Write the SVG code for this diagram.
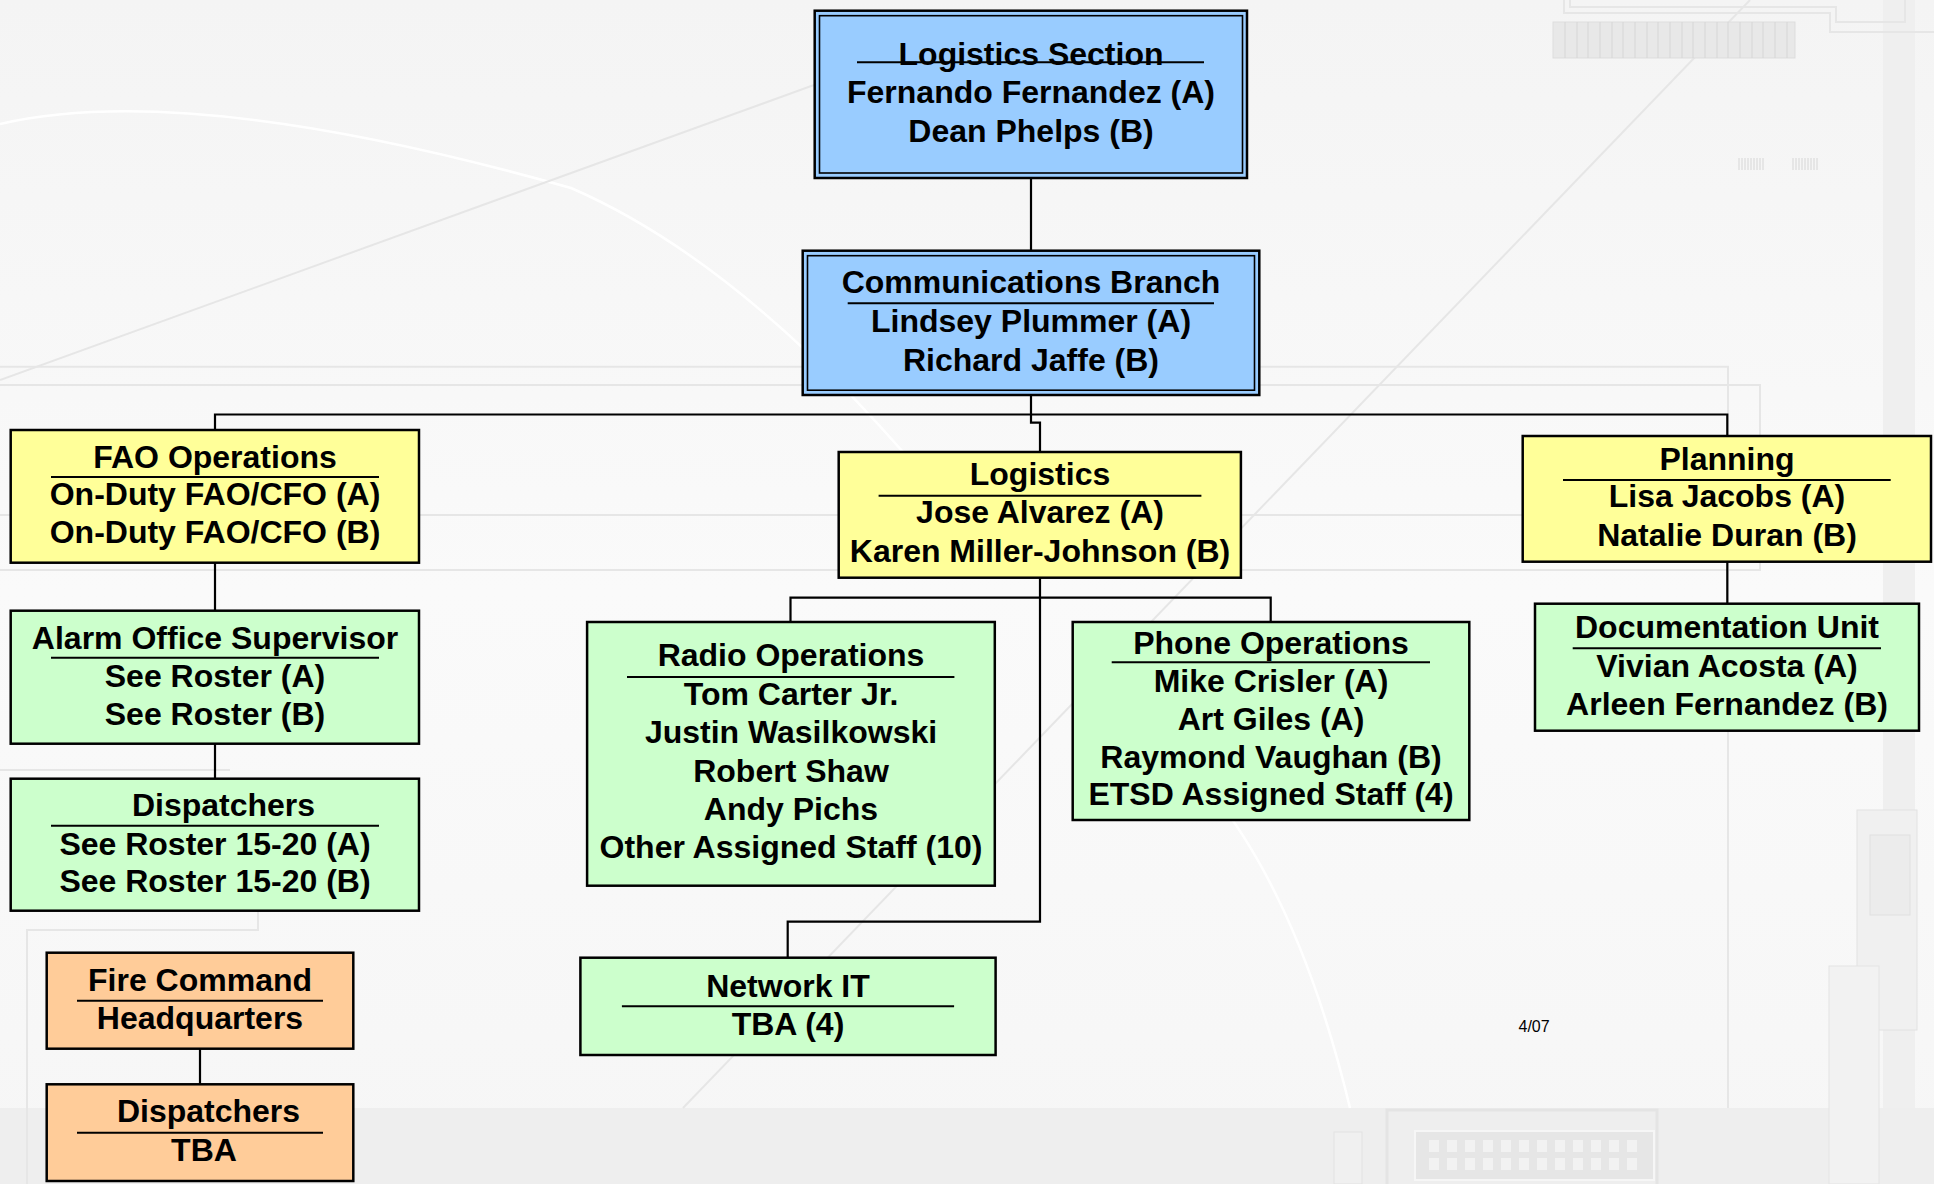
<svg xmlns="http://www.w3.org/2000/svg" width="1934" height="1184" viewBox="0 0 1934 1184">
<defs>
<linearGradient id="bg" x1="0" y1="0" x2="0" y2="1">
<stop offset="0" stop-color="#f4f4f4"/>
<stop offset="0.5" stop-color="#fafafa"/>
<stop offset="1" stop-color="#f6f6f6"/>
</linearGradient>
<style>
.t{font-family:"Liberation Sans",Arial,Helvetica,sans-serif;font-weight:bold;font-size:32px;fill:#000;text-anchor:middle}
.box{stroke:#000;stroke-width:2.5}
.in{fill:none;stroke:#000;stroke-width:1.6}
.ul{stroke:#000;stroke-width:2}
.blue{fill:#99ccff}
.yel{fill:#ffff99}
.grn{fill:#ccffcc}
.org{fill:#ffcc99}
.conn{fill:none;stroke:#000;stroke-width:2.2}
.deco{fill:none;stroke:#e6e6e6;stroke-width:2}
.decow{fill:none;stroke:#ffffff;stroke-width:2.5}
.small{font-family:"Liberation Sans",Arial,sans-serif;font-size:16px;fill:#000}
</style>
</defs>

<g id="background">
<rect x="0" y="0" width="1934" height="1184" fill="url(#bg)"/>
<rect x="1883" y="0" width="32" height="1184" fill="#efefef"/>
<rect x="0" y="1108" width="1934" height="76" fill="#eeeeee"/>
<path class="decow" d="M0,124 Q190,80 571,188 Q760,270 960,520"/>
<path class="deco" d="M0,380 L814,85"/>
<path class="deco" d="M1750,0 L683,1108"/>
<path class="decow" d="M1210,790 Q1300,900 1350,1108"/>
<path class="deco" d="M0,366.7 H1728 V1108"/>
<path class="deco" d="M0,385 H1760 V570 H0"/>
<path class="deco" d="M0,515 H1728"/>
<path class="deco" d="M0,770 H230"/>
<path class="deco" d="M27,1184 V930 H258 V900"/>
<path class="deco" d="M1564,0 V13 H1830 V32 H1934"/>
<path class="deco" d="M1570,0 V7 H1836 V22 H1905 V0"/>
<g fill="#e8e8e8" stroke="#dddddd" stroke-width="1">
<rect x="1553" y="22" width="242" height="36"/>
</g>
<g stroke="#d6d6d6" stroke-width="1">
<path d="M1565,22V58M1577,22V58M1588,22V58M1600,22V58M1612,22V58M1623,22V58M1635,22V58M1647,22V58M1658,22V58M1670,22V58M1682,22V58M1693,22V58M1705,22V58M1717,22V58M1728,22V58M1740,22V58M1752,22V58M1763,22V58M1775,22V58M1787,22V58"/>
<path d="M1739,158V170M1742,158V170M1745,158V170M1748,158V170M1751,158V170M1754,158V170M1757,158V170M1760,158V170M1763,158V170M1793,158V170M1796,158V170M1799,158V170M1802,158V170M1805,158V170M1808,158V170M1811,158V170M1814,158V170M1817,158V170"/>
</g>
<rect x="1857" y="810" width="60" height="220" fill="#f0f0f0" stroke="#e2e2e2"/>
<rect x="1870" y="835" width="40" height="80" fill="#ececec" stroke="#e0e0e0"/>
<rect x="1829" y="966" width="50" height="218" fill="#f2f2f2" stroke="#e4e4e4"/>
<rect x="1387" y="1110" width="270" height="80" fill="none" stroke="#e4e4e4" stroke-width="3"/>
<rect x="1415" y="1131" width="239" height="49" fill="#e6e6e6" stroke="#f6f6f6" stroke-width="2"/>
<g fill="#f2f2f2">
<rect x="1429" y="1140" width="10" height="12"/><rect x="1447" y="1140" width="10" height="12"/><rect x="1465" y="1140" width="10" height="12"/><rect x="1483" y="1140" width="10" height="12"/><rect x="1501" y="1140" width="10" height="12"/><rect x="1519" y="1140" width="10" height="12"/><rect x="1537" y="1140" width="10" height="12"/><rect x="1555" y="1140" width="10" height="12"/><rect x="1573" y="1140" width="10" height="12"/><rect x="1591" y="1140" width="10" height="12"/><rect x="1609" y="1140" width="10" height="12"/><rect x="1627" y="1140" width="10" height="12"/>
<rect x="1429" y="1158" width="10" height="12"/><rect x="1447" y="1158" width="10" height="12"/><rect x="1465" y="1158" width="10" height="12"/><rect x="1483" y="1158" width="10" height="12"/><rect x="1501" y="1158" width="10" height="12"/><rect x="1519" y="1158" width="10" height="12"/><rect x="1537" y="1158" width="10" height="12"/><rect x="1555" y="1158" width="10" height="12"/><rect x="1573" y="1158" width="10" height="12"/><rect x="1591" y="1158" width="10" height="12"/><rect x="1609" y="1158" width="10" height="12"/><rect x="1627" y="1158" width="10" height="12"/>
</g>
<rect x="1334" y="1132" width="28" height="52" fill="#f0f0f0" stroke="#e2e2e2"/>
</g>

<g id="connectors">
<path class="conn" d="M1031,178 V251"/>
<path class="conn" d="M1031,395 V422.7 H1040 V452"/>
<path class="conn" d="M215,430 V414.5 H1727.3 V436"/>
<path class="conn" d="M215,562.7 V610.7"/>
<path class="conn" d="M215,743.7 V778.7"/>
<path class="conn" d="M1727.3,561.7 V603.7"/>
<path class="conn" d="M200,1048.7 V1084.3"/>
<path class="conn" d="M1040,577.7 V921.7 H787.7 V957.7"/>
<path class="conn" d="M790.5,622 V597.7 H1270.7 V622"/>
</g>

<g id="logistics-section">
<rect class="box blue" x="814.7" y="10.7" width="432.3" height="167.3"/>
<rect class="in" x="819.5" y="15.7" width="423" height="157.3"/>
<text class="t" x="1031" y="65">Logistics Section</text>
<line class="ul" x1="857" y1="62.3" x2="1204" y2="62.3"/>
<text class="t" x="1031" y="103.3">Fernando Fernandez (A)</text>
<text class="t" x="1031" y="141.7">Dean Phelps (B)</text>
</g>

<g id="communications-branch">
<rect class="box blue" x="802.7" y="250.7" width="456.6" height="144.3"/>
<rect class="in" x="807.5" y="255.7" width="447" height="134.5"/>
<text class="t" x="1031" y="293.3">Communications Branch</text>
<line class="ul" x1="847.7" y1="303.3" x2="1214" y2="303.3"/>
<text class="t" x="1031" y="332.3">Lindsey Plummer (A)</text>
<text class="t" x="1031" y="370.7">Richard Jaffe (B)</text>
</g>

<g id="fao-operations">
<rect class="box yel" x="10.7" y="430" width="408.3" height="132.7"/>
<text class="t" x="215" y="467.7">FAO Operations</text>
<line class="ul" x1="51" y1="477" x2="379" y2="477"/>
<text class="t" x="215" y="505.3">On-Duty FAO/CFO (A)</text>
<text class="t" x="215" y="542.7">On-Duty FAO/CFO (B)</text>
</g>

<g id="alarm-office-supervisor">
<rect class="box grn" x="10.7" y="610.7" width="408.3" height="133"/>
<text class="t" x="215" y="648.7">Alarm Office Supervisor</text>
<line class="ul" x1="51" y1="657.7" x2="379" y2="657.7"/>
<text class="t" x="215" y="686.7">See Roster (A)</text>
<text class="t" x="215" y="725">See Roster (B)</text>
</g>

<g id="dispatchers">
<rect class="box grn" x="10.7" y="778.7" width="408.3" height="132"/>
<text class="t" x="223.5" y="816">Dispatchers</text>
<line class="ul" x1="51" y1="825.7" x2="379" y2="825.7"/>
<text class="t" x="215" y="855">See Roster 15-20 (A)</text>
<text class="t" x="215" y="892.3">See Roster 15-20 (B)</text>
</g>

<g id="fire-command-headquarters">
<rect class="box org" x="46.7" y="952.7" width="306.6" height="96"/>
<text class="t" x="200" y="990.7">Fire Command</text>
<line class="ul" x1="77" y1="1000.7" x2="323" y2="1000.7"/>
<text class="t" x="200" y="1029">Headquarters</text>
</g>

<g id="dispatchers-tba">
<rect class="box org" x="46.7" y="1084.3" width="306.6" height="96.7"/>
<text class="t" x="208.5" y="1122.3">Dispatchers</text>
<line class="ul" x1="77" y1="1132.7" x2="323" y2="1132.7"/>
<text class="t" x="204" y="1161.3">TBA</text>
</g>

<g id="logistics">
<rect class="box yel" x="838.7" y="452" width="402.2" height="125.7"/>
<text class="t" x="1040" y="485">Logistics</text>
<line class="ul" x1="878.6" y1="495.7" x2="1201.4" y2="495.7"/>
<text class="t" x="1040" y="523.3">Jose Alvarez (A)</text>
<text class="t" x="1040" y="561.7">Karen Miller-Johnson (B)</text>
</g>

<g id="radio-operations">
<rect class="box grn" x="587.1" y="622" width="407.7" height="263.7"/>
<text class="t" x="791" y="666">Radio Operations</text>
<line class="ul" x1="627" y1="677" x2="954.4" y2="677"/>
<text class="t" x="791" y="705.3">Tom Carter Jr.</text>
<text class="t" x="791" y="743.3">Justin Wasilkowski</text>
<text class="t" x="791" y="782.3">Robert Shaw</text>
<text class="t" x="791" y="820">Andy Pichs</text>
<text class="t" x="791" y="858.3">Other Assigned Staff (10)</text>
</g>

<g id="phone-operations">
<rect class="box grn" x="1072.7" y="622" width="396.6" height="198"/>
<text class="t" x="1271" y="654">Phone Operations</text>
<line class="ul" x1="1111.7" y1="662.3" x2="1430" y2="662.3"/>
<text class="t" x="1271" y="691.7">Mike Crisler (A)</text>
<text class="t" x="1271" y="730">Art Giles (A)</text>
<text class="t" x="1271" y="767.7">Raymond Vaughan (B)</text>
<text class="t" x="1271" y="805">ETSD Assigned Staff (4)</text>
</g>

<g id="network-it">
<rect class="box grn" x="580.4" y="957.7" width="415.2" height="97.3"/>
<text class="t" x="788" y="996.7">Network IT</text>
<line class="ul" x1="621.9" y1="1006.3" x2="954.1" y2="1006.3"/>
<text class="t" x="788" y="1035">TBA (4)</text>
</g>

<g id="planning">
<rect class="box yel" x="1522.7" y="436" width="408.3" height="125.7"/>
<text class="t" x="1727" y="470">Planning</text>
<line class="ul" x1="1563" y1="480" x2="1890.7" y2="480"/>
<text class="t" x="1727" y="507.3">Lisa Jacobs (A)</text>
<text class="t" x="1727" y="546">Natalie Duran (B)</text>
</g>

<g id="documentation-unit">
<rect class="box grn" x="1535" y="603.7" width="384" height="127"/>
<text class="t" x="1727" y="638.3">Documentation Unit</text>
<line class="ul" x1="1572.7" y1="648.3" x2="1881" y2="648.3"/>
<text class="t" x="1727" y="676.7">Vivian Acosta (A)</text>
<text class="t" x="1727" y="715">Arleen Fernandez (B)</text>
</g>

<text class="small" x="1518.5" y="1031.7">4/07</text>
</svg>
